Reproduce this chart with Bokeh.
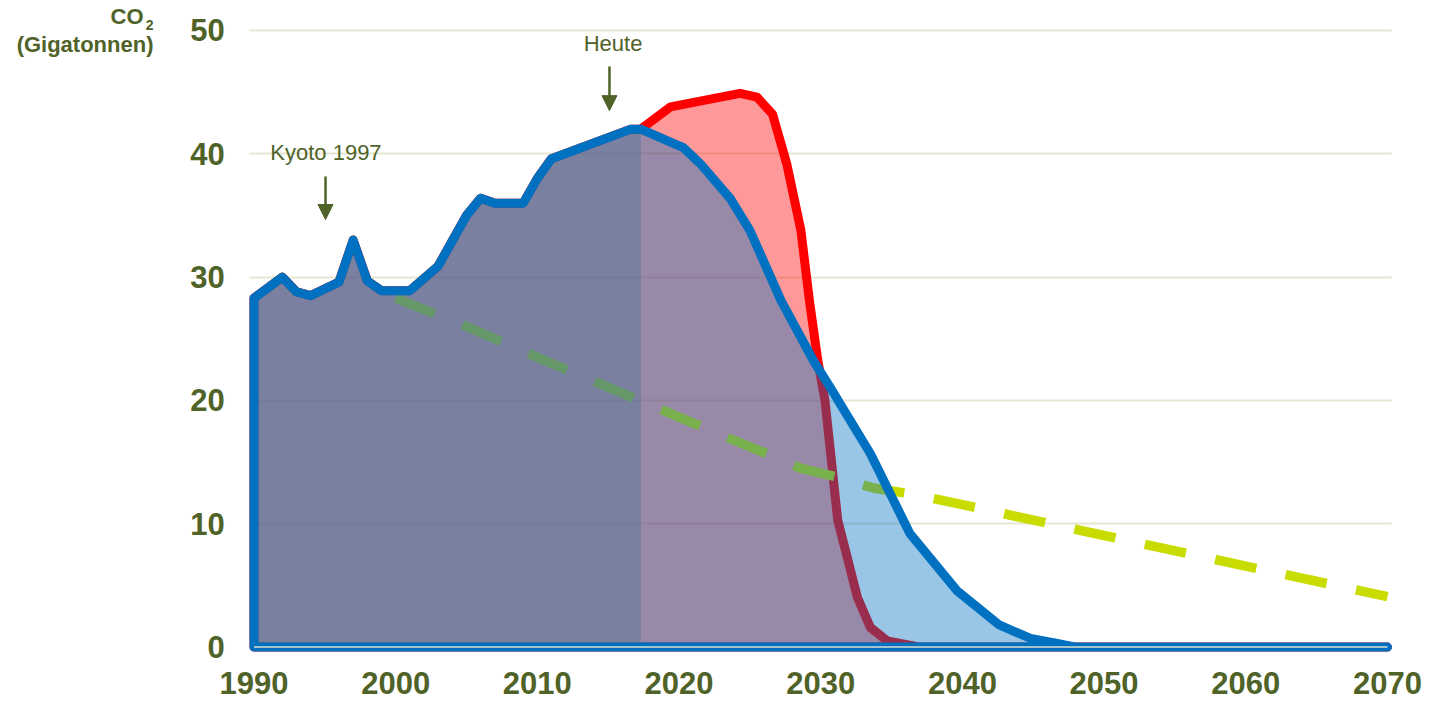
import numpy as np
from bokeh.plotting import figure
from bokeh.models import Label, Arrow, NormalHead, FixedTicker
from bokeh.embed import file_html
from bokeh.resources import INLINE

# ---------------- data ----------------
hist_years = [1990, 1992, 1993, 1994, 1996, 1997, 1998, 1999, 2001, 2003, 2005,
              2006, 2007, 2009, 2010, 2011, 2016.6, 2017.3]
hist_co2 = [28.3, 30.0, 28.8, 28.5, 29.6, 33.0, 29.7, 28.9, 28.9, 30.9, 35.0,
            36.4, 36.0, 36.0, 38.0, 39.6, 42.0, 42.0]

# blue scenario (continues after the historic part)
blue_years = [2020.3, 2021.5, 2023.6, 2025.0, 2027.2, 2029.5, 2030.7, 2033.5,
              2036.3, 2039.6, 2042.6, 2044.8, 2046.7, 2048, 2070]
blue_co2 = [40.5, 39.2, 36.4, 33.8, 28.1, 23.2, 21.0, 15.7,
            9.2, 4.6, 1.8, 0.7, 0.3, 0.0, 0.0]

# red scenario (continues after the historic part)
red_years = [2019.4, 2024.3, 2025.5, 2026.6, 2027.6, 2028.6, 2029.2, 2029.8,
             2030.3, 2031.2, 2032.6, 2033.5, 2034.7, 2037, 2070]
red_co2 = [43.8, 44.9, 44.6, 43.2, 39.2, 33.8, 28.1, 23.2,
           20.0, 10.3, 4.0, 1.6, 0.5, 0.0, 0.0]

# dashed path
dash_years = [2000, 2004.6, 2010, 2017, 2023.8, 2026.6, 2028.6, 2031.5, 2033.7,
              2036.5, 2040, 2050, 2060, 2070]
dash_co2 = [28.3, 26.2, 23.5, 20.1, 16.8, 15.5, 14.5, 13.7, 12.9,
            12.4, 11.55, 9.05, 6.57, 4.1]

x_ticks = [1990, 2000, 2010, 2020, 2030, 2040, 2050, 2060, 2070]
y_ticks = [0, 10, 20, 30, 40, 50]

OLIVE = "#4F6228"
BLUE = "#0070C0"
RED = "#FF0000"
FONT = "Liberation Sans"

# plot-area edges (data units) and the full canvas extent
AREA_X = (1989.7, 2070.3)

p = figure(width=1435, height=702, x_range=(1972.11, 2073.39), y_range=(-4.49, 52.43),
           output_backend="svg", toolbar_location=None,
           min_border_left=0, min_border_right=0, min_border_top=0, min_border_bottom=0)
p.outline_line_color = None
p.background_fill_color = "white"
p.border_fill_color = "white"

# axes, drawn at fixed positions inside the canvas-wide frame
for ax, ticks in ((p.xaxis, x_ticks), (p.yaxis, y_ticks)):
    ax.ticker = FixedTicker(ticks=ticks)
    ax.axis_line_color = None
    ax.major_tick_line_color = None
    ax.minor_tick_line_color = None
    ax.major_tick_out = 0
    ax.major_tick_in = 0
    ax.major_label_text_font = FONT
    ax.major_label_text_font_style = "bold"
    ax.major_label_text_font_size = "31px"
    ax.major_label_text_color = OLIVE
    ax.major_label_standoff = 25
p.xaxis.fixed_location = 0
p.yaxis.fixed_location = AREA_X[0]

p.xgrid.visible = False
p.ygrid.grid_line_color = "#E6E6D2"
p.ygrid.grid_line_width = 2
for g in p.ygrid:
    if "cross_bounds" in g.properties():
        g.cross_bounds = AREA_X

# polygons
hx = list(hist_years)
hy = list(hist_co2)
red_x = hx + red_years + [hist_years[0]]
red_y = hy + red_co2 + [0]
blue_x = hx + blue_years + [hist_years[0]]
blue_y = hy + blue_co2 + [0]

# red scenario area
p.patch(red_x, red_y, fill_color=RED, fill_alpha=0.4, line_color=RED,
        line_width=9, line_join="round")
# dashed path
p.line(dash_years, dash_co2, line_color="#C8DC00", line_width=9.5, line_dash="42 30")
# blue scenario area
p.patch(blue_x, blue_y, fill_color=BLUE, fill_alpha=0.4, line_color=None)
# historic part
p.varea(x=hist_years, y1=[0] * len(hist_years), y2=hist_co2,
        fill_color="#4B7293", fill_alpha=0.4)
# blue outline
p.patch(blue_x, blue_y, fill_alpha=0, line_color=BLUE, line_width=9, line_join="round")
# light axis line at zero
p.segment(x0=[x_ticks[0]], y0=[y_ticks[0]], x1=[x_ticks[-1]], y1=[y_ticks[0]],
          line_color="#DCE0CC", line_width=1.5)

# y axis title (screen units: the frame covers the whole canvas)
p.add_layout(Label(x=143, y=686, x_units="screen", y_units="screen", text="CO",
                   text_align="right", text_baseline="middle", text_font=FONT,
                   text_font_style="bold", text_font_size="22px", text_color=OLIVE))
p.add_layout(Label(x=153, y=678, x_units="screen", y_units="screen", text="2",
                   text_align="right", text_baseline="middle", text_font=FONT,
                   text_font_style="bold", text_font_size="14px", text_color=OLIVE))
p.add_layout(Label(x=153, y=658.5, x_units="screen", y_units="screen", text="(Gigatonnen)",
                   text_align="right", text_baseline="middle", text_font=FONT,
                   text_font_style="bold", text_font_size="22px", text_color=OLIVE))

# annotations
p.add_layout(Label(x=1995.08, y=40.14, text="Kyoto 1997", text_align="center",
                   text_baseline="middle", text_font=FONT, text_font_size="22px",
                   text_color=OLIVE))
p.add_layout(Arrow(x_start=1995.05, y_start=38.15, x_end=1995.05, y_end=34.67,
                   line_color=OLIVE, line_width=2.5,
                   end=NormalHead(size=15, fill_color=OLIVE, line_color=OLIVE, line_width=1)))
p.add_layout(Label(x=2015.34, y=48.98, text="Heute", text_align="center",
                   text_baseline="middle", text_font=FONT, text_font_size="22px",
                   text_color=OLIVE))
p.add_layout(Arrow(x_start=2015.09, y_start=47.07, x_end=2015.09, y_end=43.5,
                   line_color=OLIVE, line_width=2.5,
                   end=NormalHead(size=15, fill_color=OLIVE, line_color=OLIVE, line_width=1)))

open("out.html", "w").write(file_html(p, INLINE))
